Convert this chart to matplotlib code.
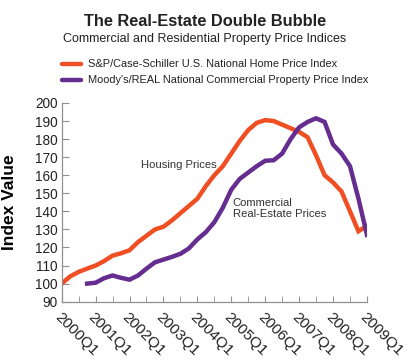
import numpy as np
import matplotlib.pyplot as plt

plt.rcParams["font.family"] = ["Liberation Sans", "DejaVu Sans"]

# =========================
# DADOS
# =========================

QUARTER_LABELS = ["2000Q1", "2001Q1", "2002Q1", "2003Q1", "2004Q1",
                  "2005Q1", "2006Q1", "2007Q1", "2008Q1", "2009Q1"]

# S&P/Case-Schiller, 2000Q1 .. 2009Q1 (37 trimestres)
housing = [100, 104, 106.5, 108.3, 110, 112.5, 115.5, 116.8, 118.5, 123,
           126.5, 130, 131.5, 135, 139, 143, 147, 154, 160, 165,
           172, 179, 185, 189, 190.5, 190, 188, 186, 184, 181,
           171, 160, 156, 151, 140, 129, 132]

# Moody's/REAL, começa em 2000Q4
commercial_start = 3
commercial = [100, 100.5, 103, 104.5, 103.2, 102.2, 104.5, 108.3, 111.8, 113.3,
              114.8, 116.5, 119.5, 124.5, 128.5, 134, 142, 152, 158, 161.5,
              165, 168, 168.3, 172, 180, 186.5, 189.5, 191.5, 189.5, 177,
              172, 165, 147, 127]

ORANGE = "#F04E23"
PURPLE = "#652D90"

# =========================
# PLOT
# =========================

fig = plt.figure(figsize=(4.1, 3.62), dpi=100)
ax = fig.add_axes([0.1505, 0.1666, 0.7445, 0.549])

q_h = np.arange(len(housing))
q_c = np.arange(commercial_start, commercial_start + len(commercial))

ax.plot(q_h, housing, color=ORANGE, lw=3.2, solid_joinstyle="miter")
ax.plot(q_c, commercial, color=PURPLE, lw=3.2, solid_joinstyle="miter")

ax.set_xlim(0, 36)
ax.set_ylim(90, 200)

for side in ["top", "right"]:
    ax.spines[side].set_visible(False)
for side in ["left", "bottom"]:
    ax.spines[side].set_color("#909090")
    ax.spines[side].set_linewidth(0.9)

ax.set_yticks(np.arange(90, 201, 10))
ax.tick_params(axis="y", direction="in", length=5, color="#909090",
               labelsize=9.8, pad=3, labelcolor="#222222")

ax.set_xticks(np.arange(0, 37, 4))
ax.set_xticklabels(QUARTER_LABELS, rotation=-45, ha="left", va="top",
                   rotation_mode="anchor", fontsize=11, color="#222222")
ax.set_xticks(np.arange(2, 37, 4), minor=True)
ax.tick_params(axis="x", which="both", direction="in", length=4,
               color="#909090", pad=6)

ax.set_ylabel("Index Value", fontsize=12.5, fontweight="bold", labelpad=6)
ax.yaxis.set_label_coords(-0.145, 0.5)

ax.text(0.26, 0.69, "Housing Prices", transform=ax.transAxes,
        fontsize=8.1, color="#333333", va="center")
ax.text(0.56, 0.47, "Commercial\nReal-Estate Prices", transform=ax.transAxes,
        fontsize=8.1, color="#333333", va="center", linespacing=1.1)

# títulos
fig.text(0.5, 0.941, "The Real-Estate Double Bubble", ha="center",
         va="center", fontsize=11.8, fontweight="bold", color="#222222")
fig.text(0.5, 0.891, "Commercial and Residential Property Price Indices",
         ha="center", va="center", fontsize=9.0, color="#222222")

# legenda manual
leg_items = [("S&P/Case-Schiller U.S. National Home Price Index", ORANGE),
             ("Moody's/REAL National Commercial Property Price Index", PURPLE)]
for i, (label, color) in enumerate(leg_items):
    y = 1 - (64 + 16 * i) / 362
    fig.add_artist(plt.Line2D([62 / 410, 81 / 410], [y, y], color=color,
                              lw=3.2, solid_capstyle="round"))
    fig.text(88 / 410, y, label, ha="left", va="center", fontsize=7.95,
             color="#222222")

fig.savefig("out.png", dpi=100)
